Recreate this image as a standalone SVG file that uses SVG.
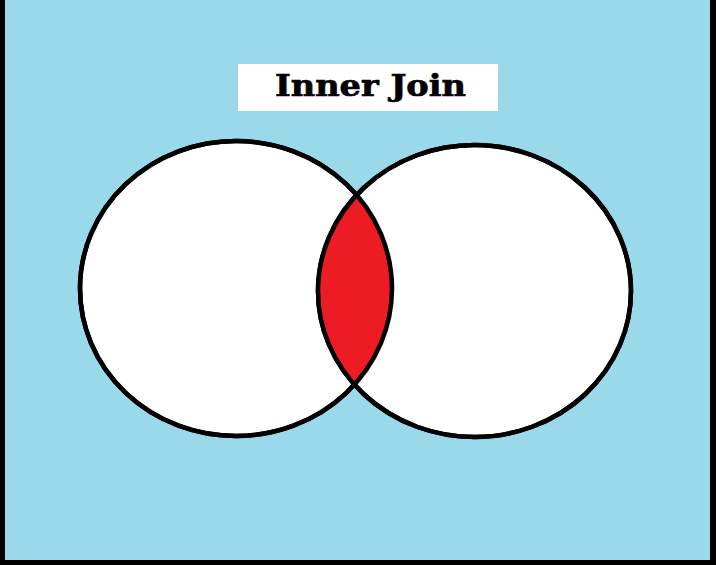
<svg xmlns="http://www.w3.org/2000/svg" width="716" height="565" viewBox="0 0 716 565">
<style>
.circ{fill:#ffffff;stroke:#000000;stroke-width:4.5}
.outline{fill:none;stroke:#000000;stroke-width:4.5}
.title{font-family:"DejaVu Serif","Liberation Serif",serif;font-weight:bold;font-size:30px;fill:#000000;stroke:#000000;stroke-width:0.7}
</style>
<defs>
<clipPath id="clipLeft"><ellipse cx="236" cy="288.5" rx="156" ry="147.5"/></clipPath>
</defs>
<rect x="0" y="0" width="716" height="565" fill="#99d9ea"/>
<rect x="0" y="0" width="5" height="565" fill="#000000"/>
<rect x="0" y="560" width="716" height="5" fill="#000000"/>
<rect x="710" y="0" width="6" height="565" fill="#000000"/>
<g id="title">
<rect x="238" y="64" width="260" height="47" fill="#ffffff"/>
<text class="title" x="275" y="96" textLength="191" lengthAdjust="spacingAndGlyphs">Inner Join</text>
</g>
<g id="left-set">
<ellipse class="circ" cx="236" cy="288.5" rx="156" ry="147.5"/>
</g>
<g id="right-set">
<ellipse class="circ" cx="474.5" cy="291" rx="156.5" ry="146"/>
</g>
<g id="intersection">
<ellipse cx="474.5" cy="291" rx="156.5" ry="146" fill="#ed1c24" clip-path="url(#clipLeft)"/>
</g>
<g id="outlines">
<ellipse class="outline" cx="236" cy="288.5" rx="156" ry="147.5"/>
<ellipse class="outline" cx="474.5" cy="291" rx="156.5" ry="146"/>
</g>
</svg>
